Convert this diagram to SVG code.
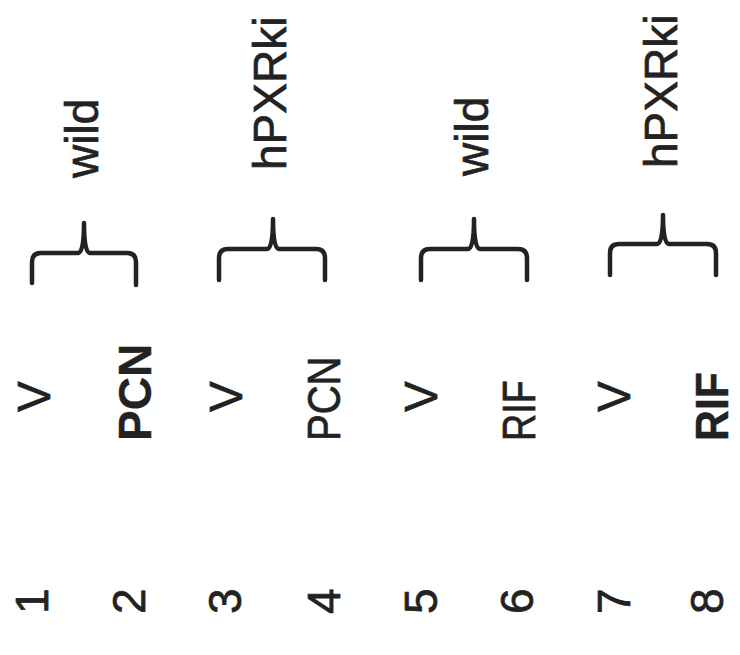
<svg xmlns="http://www.w3.org/2000/svg" width="740" height="655" viewBox="0 0 740 655">
  <style>
    .t { font-family: "Liberation Sans", Arial, Helvetica, sans-serif; font-size: 46px; fill: #222; stroke: #222; stroke-width: 0.7px; }
    .b { font-weight: bold; stroke-width: 0.4px; }
    .brace { fill: none; stroke: #222; stroke-width: 4.5; stroke-linecap: round; stroke-linejoin: round; }
  </style>
  <rect width="740" height="655" fill="#fff"/>

  <!-- lane numbers -->
  <g id="lane-numbers">
    <text class="t" transform="translate(48,614) rotate(-90)">1</text>
    <text class="t" transform="translate(145,614) rotate(-90)">2</text>
    <text class="t" transform="translate(241,614) rotate(-90)">3</text>
    <text class="t" transform="translate(340,614) rotate(-90)">4</text>
    <text class="t" transform="translate(437,614) rotate(-90)">5</text>
    <text class="t" transform="translate(533,614) rotate(-90)">6</text>
    <text class="t" transform="translate(630,614) rotate(-90)">7</text>
    <text class="t" transform="translate(723,614) rotate(-90)">8</text>
  </g>

  <!-- treatments -->
  <g id="treatments">
    <text class="t" transform="translate(50,412) rotate(-90)">V</text>
    <text class="t b" transform="translate(151,441) rotate(-90)">PCN</text>
    <text class="t" transform="translate(242,412) rotate(-90)">V</text>
    <text class="t" transform="translate(340,441) rotate(-90) scale(0.87,1)">PCN</text>
    <text class="t" transform="translate(437,412) rotate(-90)">V</text>
    <text class="t" transform="translate(535,441) rotate(-90) scale(0.82,1)">RIF</text>
    <text class="t" transform="translate(630,412) rotate(-90)">V</text>
    <text class="t b" transform="translate(728,441) rotate(-90) scale(0.93,1)">RIF</text>
  </g>

  <!-- group braces -->
  <g id="braces">
    <path class="brace" d="M32,283 V262 Q32,253 41,253 H78 Q84,253 84,223 Q84,253 90,253 H127 Q136,253 136,262 V285"/>
    <path class="brace" d="M219,280 V258 Q219,249 228,249 H267 Q273,249 273,219 Q273,249 279,249 H316 Q325,249 325,258 V280"/>
    <path class="brace" d="M421,280 V258 Q421,249 430,249 H468 Q474,249 474,219 Q474,249 480,249 H518 Q527,249 527,258 V280"/>
    <path class="brace" d="M610,275 V253 Q610,244 619,244 H657 Q663,244 663,215 Q663,244 669,244 H707 Q716,244 716,253 V275"/>
  </g>

  <!-- strains -->
  <g id="strains">
    <text class="t" transform="translate(98,178) rotate(-90)">wild</text>
    <text class="t" transform="translate(286,170) rotate(-90)">hPXRki</text>
    <text class="t" transform="translate(488,176) rotate(-90)">wild</text>
    <text class="t" transform="translate(677,168) rotate(-90)">hPXRki</text>
  </g>
</svg>
